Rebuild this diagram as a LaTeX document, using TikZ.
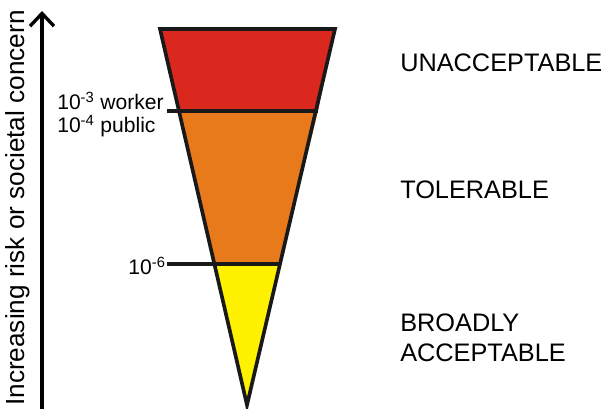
\documentclass[tikz,border=0pt]{standalone}
\usepackage{fontspec}
\setmainfont{Liberation Sans}
\usetikzlibrary{arrows.meta}

\definecolor{riskred}{RGB}{218,40,30}
\definecolor{riskorange}{RGB}{232,122,28}
\definecolor{riskyellow}{RGB}{255,242,0}

\tikzset{
  edgeline/.style={line width=2.6pt, draw=black!90, line join=miter},
  zone/.style={anchor=west, font=\fontsize{18}{21}\selectfont, align=left, inner sep=0pt},
  level/.style={font=\fontsize{15}{17}\selectfont, inner sep=0pt}
}

\begin{document}
\begin{tikzpicture}[x=0.025cm, y=-0.025cm]
    \useasboundingbox (0,0) rectangle (603,408);

    % corner points of the triangle
    \coordinate (tl) at (160,29);
    \coordinate (tr) at (335,29);
    \coordinate (apex) at (247,405);
    \coordinate (al) at (179,111);
    \coordinate (ar) at (318,111);
    \coordinate (bl) at (214,264);
    \coordinate (br) at (280,264);
    \coordinate (ta) at (167,111);
    \coordinate (tb) at (167,264);

    % bands
    \fill[riskred] (tl) -- (tr) -- (ar) -- (al) -- cycle;
    \fill[riskorange] (al) -- (ar) -- (br) -- (bl) -- cycle;
    \fill[riskyellow] (bl) -- (br) -- (apex) -- cycle;
    \draw[edgeline] (tl) -- (tr) -- (apex) -- cycle;
    \draw[edgeline] (ta) -- (ar);
    \draw[edgeline] (tb) -- (br);

    % axis
    \coordinate (base) at (42,410);
    \coordinate (tip) at (42,11);
    \draw[line width=2.6pt, -{Straight Barb[length=9pt, width=17pt, line width=2.4pt]}] (base) -- (tip);
    \node (axis) [rotate=90, font=\fontsize{18.6}{20}\selectfont, inner sep=0pt] at (18,208) {Increasing risk or societal concern};

    % levels
    \node (worker) [level, anchor=west] at (57,101) {10\textsuperscript{-3} worker};
    \node (public) [level, anchor=west] at (57,126) {10\textsuperscript{-4} public};
    \node (six) [level, anchor=east] at (166,266) {10\textsuperscript{-6}};

    % zones
    \node (unacc) [zone] at (400,63) {UNACCEPTABLE};
    \node (toler) [zone] at (400,190) {TOLERABLE};
    \node (broad) [zone] at (400,338) {BROADLY\\ACCEPTABLE};
\end{tikzpicture}
\end{document}
